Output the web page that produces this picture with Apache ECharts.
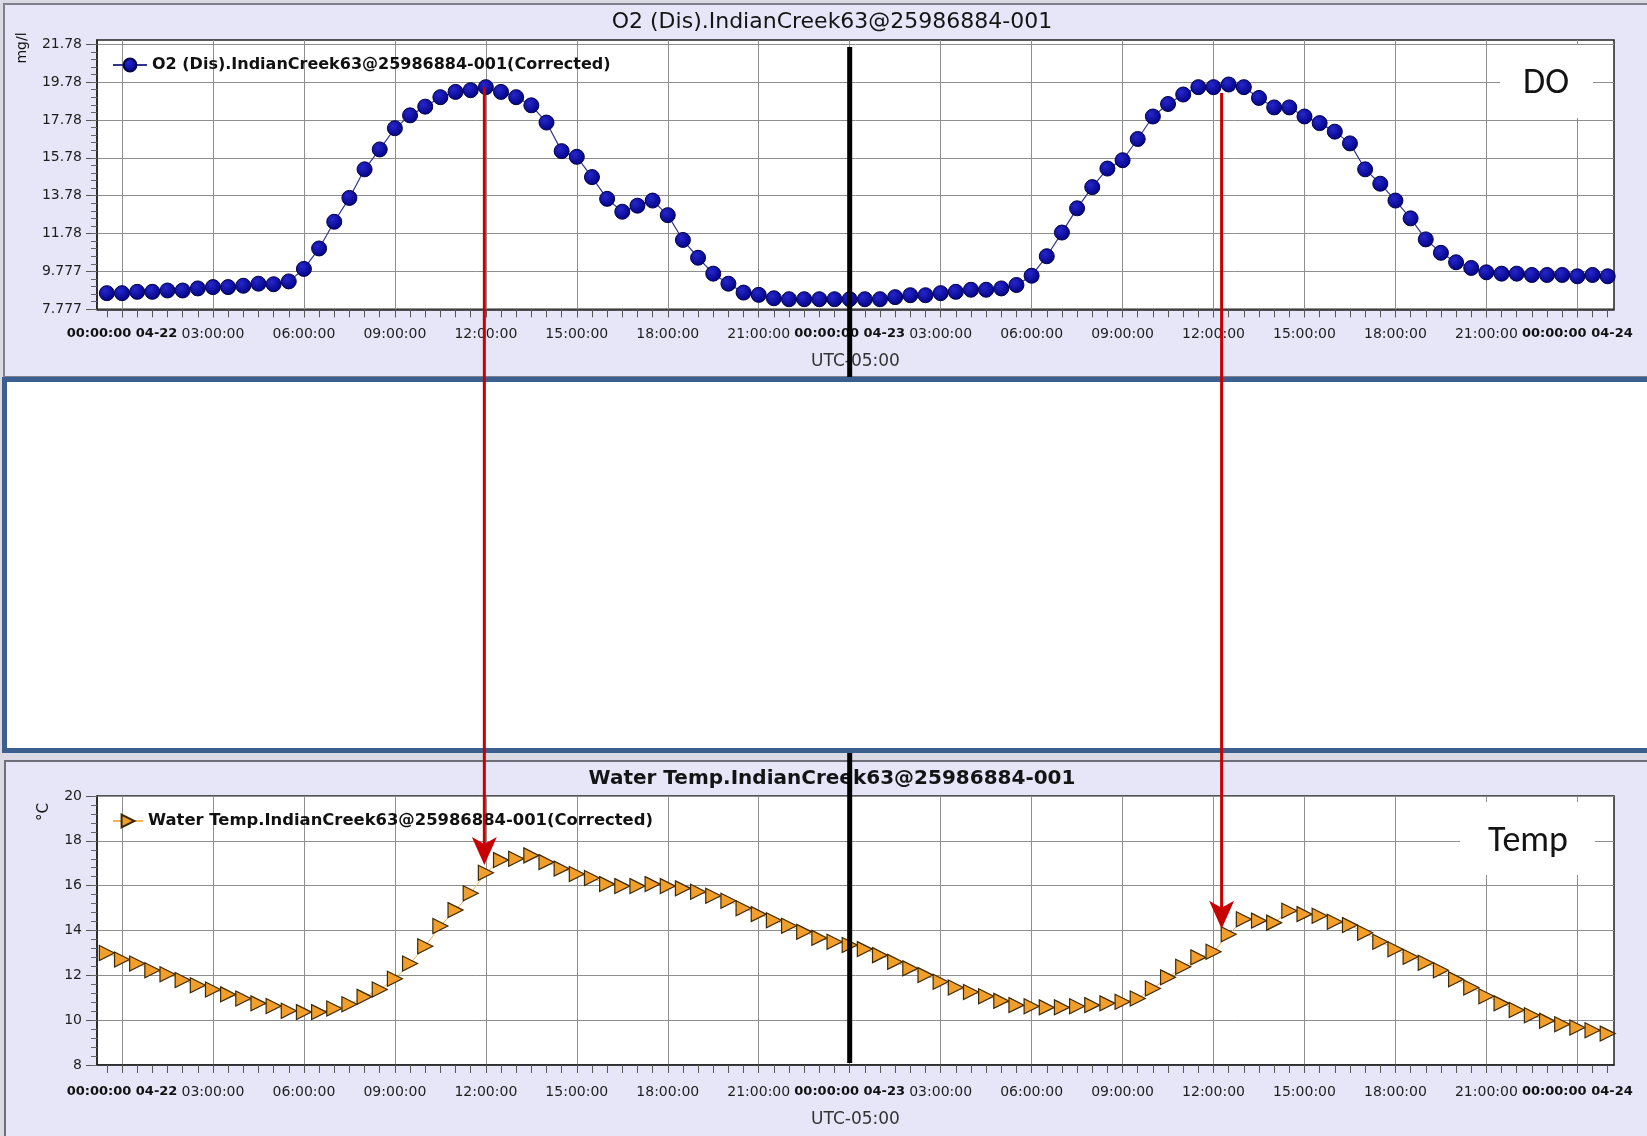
<!DOCTYPE html>
<html><head><meta charset="utf-8">
<script src="https://cdn.jsdelivr.net/npm/echarts@6/dist/echarts.min.js"></script>
<style>html,body{margin:0;padding:0;background:#fff}#c{width:1647px;height:1136px}</style>
</head><body><div id="c"></div>
<script>
// ---------------- data ----------------
const seriesStart = '2013-04-21 23:30';
const stepMinutes = 30;
const doName = 'O2 (Dis).IndianCreek63@25986884-001(Corrected)';
const tempName = 'Water Temp.IndianCreek63@25986884-001(Corrected)';
const doTitle = 'O2 (Dis).IndianCreek63@25986884-001';
const tempTitle = 'Water Temp.IndianCreek63@25986884-001';

const doValues = [
  8.63, 8.63, 8.70, 8.70, 8.77, 8.77, 8.88, 8.95, 8.95, 9.02,
  9.13, 9.10, 9.25, 9.91, 10.99, 12.40, 13.66, 15.17, 16.22, 17.34,
  18.02, 18.48, 18.98, 19.26, 19.35, 19.51, 19.26, 18.98, 18.55, 17.64,
  16.13, 15.83, 14.76, 13.61, 12.93, 13.25, 13.52, 12.75, 11.44, 10.50,
  9.66, 9.13, 8.66, 8.54, 8.36, 8.31, 8.31, 8.31, 8.31, 8.31,
  8.31, 8.31, 8.42, 8.52, 8.52, 8.63, 8.70, 8.81, 8.81, 8.88,
  9.06, 9.55, 10.58, 11.83, 13.11, 14.23, 15.21, 15.65, 16.77, 17.96,
  18.62, 19.12, 19.51, 19.51, 19.65, 19.51, 18.94, 18.44, 18.44, 17.96,
  17.61, 17.16, 16.54, 15.17, 14.41, 13.52, 12.58, 11.47, 10.76, 10.26,
  9.96, 9.73, 9.66, 9.66, 9.59, 9.59, 9.59, 9.52, 9.59, 9.52
];
const tempValues = [
  13.00, 12.71, 12.53, 12.23, 12.05, 11.79, 11.56, 11.37, 11.15, 10.97,
  10.75, 10.63, 10.42, 10.36, 10.36, 10.52, 10.71, 11.04, 11.37, 11.85,
  12.53, 13.30, 14.20, 14.91, 15.66, 16.58, 17.14, 17.20, 17.35, 17.05,
  16.76, 16.52, 16.34, 16.07, 15.98, 15.98, 16.07, 15.98, 15.88, 15.73,
  15.55, 15.33, 14.99, 14.73, 14.46, 14.21, 13.94, 13.67, 13.50, 13.35,
  13.17, 12.90, 12.60, 12.31, 12.01, 11.71, 11.46, 11.26, 11.07, 10.86,
  10.67, 10.62, 10.57, 10.57, 10.62, 10.67, 10.75, 10.82, 10.97, 11.41,
  11.91, 12.38, 12.80, 13.05, 13.83, 14.50, 14.44, 14.35, 14.88, 14.73,
  14.66, 14.39, 14.24, 13.90, 13.50, 13.16, 12.83, 12.56, 12.23, 11.82,
  11.46, 11.07, 10.75, 10.45, 10.22, 9.97, 9.82, 9.67, 9.55, 9.40
];

const xRange = ['2013-04-21 23:10:30', '2013-04-24 01:12:30'];
const xTickTimes = [
  '2013-04-22 00:00', '2013-04-22 03:00', '2013-04-22 06:00', '2013-04-22 09:00',
  '2013-04-22 12:00', '2013-04-22 15:00', '2013-04-22 18:00', '2013-04-22 21:00',
  '2013-04-23 00:00', '2013-04-23 03:00', '2013-04-23 06:00', '2013-04-23 09:00',
  '2013-04-23 12:00', '2013-04-23 15:00', '2013-04-23 18:00', '2013-04-23 21:00',
  '2013-04-24 00:00'
];
const minorTickStart = '2013-04-21 23:30';
const minorTickEnd = '2013-04-24 01:00';

const doYRange = [7.777, 22.0];
const doYTicks = [7.777, 9.777, 11.777, 13.777, 15.777, 17.777, 19.777, 21.777];
const doYLabels = ['7.777', '9.777', '11.78', '13.78', '15.78', '17.78', '19.78', '21.78'];
const tempYRange = [8, 20];
const tempYTicks = [8, 10, 12, 14, 16, 18, 20];
const tempYLabels = ['8', '10', '12', '14', '16', '18', '20'];

// annotations
const markerLineTime = '2013-04-23 00:00';
const arrowTimes = ['2013-04-22 11:57', '2013-04-23 12:16'];
const arrowFromDO = [19.51, 19.20];
const arrowToTemp = [16.92, 14.08];

// ---------------- helpers ----------------
function toMs(s) {
  const [d, t] = s.split(' ');
  const [Y, M, D] = d.split('-').map(Number);
  const tp = t.split(':').map(Number);
  return Date.UTC(Y, M - 1, D, tp[0], tp[1], tp[2] || 0);
}
const pad = n => (n < 10 ? '0' : '') + n;
function fmtTime(v) {
  const d = new Date(v);
  const hh = pad(d.getUTCHours()), mm = pad(d.getUTCMinutes());
  if (d.getUTCHours() === 0 && d.getUTCMinutes() === 0) {
    return '{b|00:00:00 ' + pad(d.getUTCMonth() + 1) + '-' + pad(d.getUTCDate()) + '}';
  }
  return hh + ':' + mm + ':00';
}
function labelFor(ticks, labels) {
  return v => {
    let best = 0;
    for (let i = 1; i < ticks.length; i++) if (Math.abs(ticks[i] - v) < Math.abs(ticks[best] - v)) best = i;
    return labels[best];
  };
}

const t0 = toMs(seriesStart);
const stepMs = stepMinutes * 60000;
const doData = doValues.map((v, i) => [t0 + i * stepMs, v]);
const tempData = tempValues.map((v, i) => [t0 + i * stepMs, v]);
const xMin = toMs(xRange[0]), xMax = toMs(xRange[1]);
const xMajor = xTickTimes.map(toMs);
const xMinor = [];
for (let t = toMs(minorTickStart); t <= toMs(minorTickEnd); t += stepMs) xMinor.push(t);
const doMinor = [];
for (let k = 0; doYRange[0] + 0.4 * k <= doYRange[1]; k++) doMinor.push(doYRange[0] + 0.4 * k);
const tempMinor = [];
for (let k = 0; tempYRange[0] + 0.4 * k <= tempYRange[1] + 1e-9; k++) tempMinor.push(tempYRange[0] + 0.4 * k);

// ---------------- style ----------------
const FF = '"DejaVu Sans", sans-serif';
const gridColor = '#8e8e8e';
const grids = [
  { left: 97, right: 33, top: 40, height: 269.3 },
  { left: 97, right: 33, top: 796, height: 269 }
];

function mainX(gi, labelMargin, nameGap) {
  return {
    type: 'value', gridIndex: gi, min: xMin, max: xMax, position: 'bottom',
    axisLine: { show: true, onZero: false, lineStyle: { color: '#222', width: 1.5 } },
    axisTick: { show: true, customValues: xMajor, length: 8, lineStyle: { color: '#555' } },
    axisLabel: {
      show: true, customValues: xMajor, formatter: fmtTime, fontFamily: FF, fontSize: 14,
      color: '#1e1e1e', margin: labelMargin,
      rich: { b: { fontFamily: FF, fontWeight: 'bold', fontSize: 13, color: '#111' } }
    },
    splitLine: { show: true, lineStyle: { color: gridColor, width: 1 } },
    name: 'UTC-05:00', nameLocation: 'middle', nameGap: nameGap,
    nameTextStyle: { fontFamily: FF, fontSize: 17, color: '#333' }
  };
}
function minorX(gi) {
  return {
    type: 'value', gridIndex: gi, min: xMin, max: xMax, position: 'bottom',
    axisLine: { show: false }, axisLabel: { show: false }, splitLine: { show: false },
    axisTick: { show: true, customValues: xMinor, length: 8, lineStyle: { color: '#555' } }
  };
}
function mainY(gi, range, ticks, labels) {
  return {
    type: 'value', gridIndex: gi, min: range[0], max: range[1], position: 'left',
    axisLine: { show: true, onZero: false, lineStyle: { color: '#222', width: 1.5 } },
    axisTick: { show: true, customValues: ticks, length: 11, lineStyle: { color: '#555' } },
    axisLabel: { show: true, customValues: ticks, formatter: labelFor(ticks, labels),
      fontFamily: FF, fontSize: 14, color: '#1e1e1e', margin: 15 },
    splitLine: { show: true, lineStyle: { color: gridColor, width: 1 } }
  };
}
function minorY(gi, range, ticks) {
  return {
    type: 'value', gridIndex: gi, min: range[0], max: range[1], position: 'left',
    axisLine: { show: false }, axisLabel: { show: false }, splitLine: { show: false },
    axisTick: { show: true, customValues: ticks, length: 6, lineStyle: { color: '#666' } }
  };
}

const chart = echarts.init(document.getElementById('c'));
const option = {
  animation: false,
  backgroundColor: '#d9dae3',
  grid: grids.map(g => Object.assign({ show: true, backgroundColor: '#ffffff', borderColor: '#222', borderWidth: 1.5 }, g)),
  legend: [
    { data: [doName], left: 112, top: 57, padding: 0, itemWidth: 34, itemHeight: 16,
      textStyle: { fontFamily: FF, fontWeight: 'bold', fontSize: 16, color: '#111' } },
    { data: [tempName], left: 112, top: 813, padding: 0, itemWidth: 30, itemHeight: 16,
      textStyle: { fontFamily: FF, fontWeight: 'bold', fontSize: 16.4, color: '#111' } }
  ],
  xAxis: [mainX(0, 18, 44), minorX(0), mainX(1, 20, 46), minorX(1)],
  yAxis: [
    mainY(0, doYRange, doYTicks, doYLabels), minorY(0, doYRange, doMinor),
    mainY(1, tempYRange, tempYTicks, tempYLabels), minorY(1, tempYRange, tempMinor)
  ],
  series: [
    {
      name: doName, type: 'line', xAxisIndex: 0, yAxisIndex: 0, data: doData,
      symbol: 'circle', symbolSize: 15, z: 3,
      lineStyle: { color: '#34348f', width: 1.2 },
      itemStyle: {
        color: { type: 'radial', x: 0.38, y: 0.35, r: 0.7,
          colorStops: [{ offset: 0, color: '#2626cc' }, { offset: 1, color: '#000080' }] },
        borderColor: '#000048', borderWidth: 1
      }
    },
    {
      name: tempName, type: 'line', xAxisIndex: 2, yAxisIndex: 2, data: tempData,
      symbol: 'path://M0,0L12,6L0,12Z', symbolSize: 15, z: 3,
      lineStyle: { color: '#f3b451', width: 1 },
      itemStyle: { color: '#f29e2a', borderColor: '#3b2a05', borderWidth: 1.2 }
    }
  ]
};
chart.setOption(option);

// ---------------- decorations ----------------
const lav = '#e6e6f8';
const g = [];
g.push({ type: 'rect', z: -10, silent: true, shape: { x: 4, y: 4, width: 1700, height: 373 },
  style: { fill: lav, stroke: '#7f7f8e', lineWidth: 2 } });
g.push({ type: 'rect', z: -10, silent: true, shape: { x: 4.5, y: 379.5, width: 1700, height: 371 },
  style: { fill: '#ffffff', stroke: '#3b5f8e', lineWidth: 5 } });
g.push({ type: 'rect', z: -10, silent: true, shape: { x: 5, y: 761, width: 1700, height: 420 },
  style: { fill: lav, stroke: '#6e6e78', lineWidth: 2 } });

function txt(x, y, text, font, extra) {
  return Object.assign({ type: 'text', x: x, y: y, z: 10, silent: true,
    style: { text: text, font: font, fill: '#141414', align: 'center', verticalAlign: 'middle',
      textAlign: 'center', textVerticalAlign: 'middle' } }, extra || {});
}
g.push(txt(832, 22, doTitle, '22px "DejaVu Sans"'));
g.push(txt(832, 779, tempTitle, 'bold 20px "DejaVu Sans"'));
g.push(txt(22, 48, 'mg/l', '14px "DejaVu Sans"', { rotation: Math.PI / 2 }));
g.push(txt(44, 812, '°C', '15px "DejaVu Sans"', { rotation: Math.PI / 2 }));

// label boxes
g.push({ type: 'rect', z: 8, silent: true, shape: { x: 1500, y: 45, width: 93, height: 73 }, style: { fill: '#fff' } });
g.push(txt(1546, 84, 'DO', '36px Carlito, "Open Sans", sans-serif', { z: 9 }));
g.push({ type: 'rect', z: 8, silent: true, shape: { x: 1460, y: 802, width: 135, height: 73 }, style: { fill: '#fff' } });
g.push(txt(1528, 842, 'Temp', '36px Carlito, "Open Sans", sans-serif', { z: 9 }));

// vertical black line at midnight 04-23
const finderTop = { xAxisIndex: 0, yAxisIndex: 0 };
const finderBot = { xAxisIndex: 2, yAxisIndex: 2 };
const bx = chart.convertToPixel(finderTop, [toMs(markerLineTime), 10])[0];
g.push({ type: 'line', z: 20, silent: true, shape: { x1: bx, y1: 47, x2: bx, y2: 377 }, style: { stroke: '#000', lineWidth: 5 } });
g.push({ type: 'line', z: 20, silent: true, shape: { x1: bx, y1: 753, x2: bx, y2: 1063 }, style: { stroke: '#000', lineWidth: 5 } });

// red arrows
arrowTimes.forEach((ts, i) => {
  const p1 = chart.convertToPixel(finderTop, [toMs(ts), arrowFromDO[i]]);
  const p2 = chart.convertToPixel(finderBot, [toMs(ts), arrowToTemp[i]]);
  const x = p1[0], tip = p2[1];
  g.push({ type: 'line', z: 21, silent: true, shape: { x1: x, y1: p1[1], x2: x, y2: tip - 18 },
    style: { stroke: '#c80000', lineWidth: 3 } });
  g.push({ type: 'polygon', z: 21, silent: true,
    shape: { points: [[x, tip], [x - 12.5, tip - 28], [x, tip - 21], [x + 12.5, tip - 28]] },
    style: { fill: '#c80000' } });
});

chart.setOption({ graphic: { elements: g } });
</script>
</body></html>
